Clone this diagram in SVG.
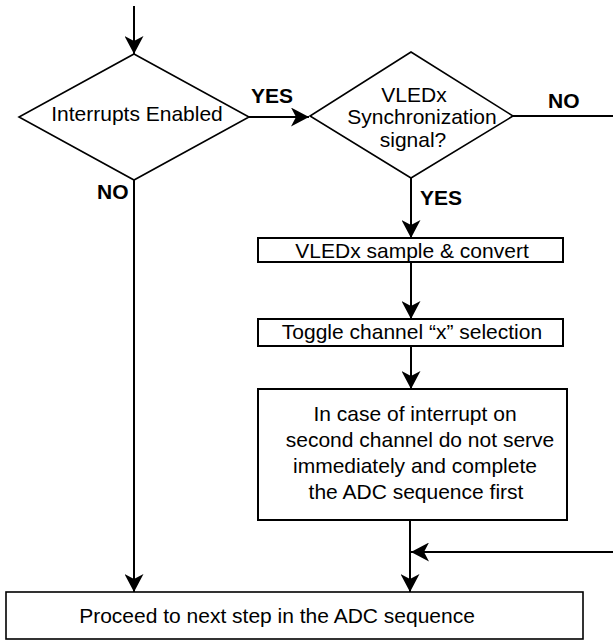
<svg xmlns="http://www.w3.org/2000/svg" width="613" height="641" viewBox="0 0 613 641">
<style>
  .t { font-family: "Liberation Sans", Arial, sans-serif; font-size: 21px; fill: #000; }
  .m { text-anchor: middle; }
  .b { font-weight: bold; }
  .box { fill: #fff; stroke: #000; stroke-width: 2; }
  .dia { fill: #fff; stroke: #000; stroke-width: 1.6; }
  .ln { fill: none; stroke: #000; stroke-width: 2; }
  .arr { marker-end: url(#ah); }
</style>
<defs>
  <marker id="ah" viewBox="0 0 18 19" refX="18" refY="9.5" markerWidth="18" markerHeight="19" orient="auto" markerUnits="userSpaceOnUse">
    <path d="M0,0 L18,9.5 L0,19 L5,9.5 Z" fill="#000"/>
  </marker>
</defs>
<rect width="613" height="641" fill="#fff"/>
<g id="connectors">
  <line class="ln arr" x1="134" y1="6" x2="134" y2="54"/>
  <line class="ln arr" x1="249" y1="117" x2="309" y2="117"/>
  <line class="ln" x1="513" y1="116" x2="613" y2="116"/>
  <line class="ln arr" x1="411" y1="178" x2="411" y2="238"/>
  <line class="ln arr" x1="411" y1="262" x2="411" y2="319"/>
  <line class="ln arr" x1="411" y1="346" x2="411" y2="389"/>
  <line class="ln arr" x1="410" y1="520" x2="410" y2="592"/>
  <line class="ln arr" x1="613" y1="552" x2="411" y2="552"/>
  <line class="ln arr" x1="134" y1="180" x2="134" y2="592"/>
  <text class="t b" x="251" y="103">YES</text>
  <text class="t b" x="97" y="199">NO</text>
  <text class="t b" x="548" y="108">NO</text>
  <text class="t b" x="420" y="205">YES</text>
</g>
<g id="interrupts-enabled">
  <polygon class="dia" points="134,54 249,117 134,180 19,117"/>
  <text class="t m" x="137" y="121">Interrupts Enabled</text>
</g>
<g id="vledx-sync">
  <polygon class="dia" points="411,52 513,116 411,178 310,116"/>
  <text class="t m" x="414" y="102">VLEDx</text>
  <text class="t m" x="422" y="124">Synchronization</text>
  <text class="t m" x="413" y="147">signal?</text>
</g>
<g id="sample-convert">
  <rect class="box" x="258" y="238" width="305" height="24"/>
  <text class="t m" x="412" y="258">VLEDx sample &amp; convert</text>
</g>
<g id="toggle-channel">
  <rect class="box" x="258" y="319" width="305" height="27"/>
  <text class="t m" x="412" y="339">Toggle channel “x” selection</text>
</g>
<g id="interrupt-note">
  <rect class="box" x="258" y="389" width="309" height="131"/>
  <text class="t m" x="415" y="421">In case of interrupt on</text>
  <text class="t m" x="420" y="447">second channel do not serve</text>
  <text class="t m" x="415" y="473">immediately and complete</text>
  <text class="t m" x="416" y="499">the ADC sequence first</text>
</g>
<g id="proceed">
  <rect class="box" x="6" y="592" width="577" height="47" style="stroke-width:1.6"/>
  <text class="t m" x="277" y="623">Proceed to next step in the ADC sequence</text>
</g>
</svg>
